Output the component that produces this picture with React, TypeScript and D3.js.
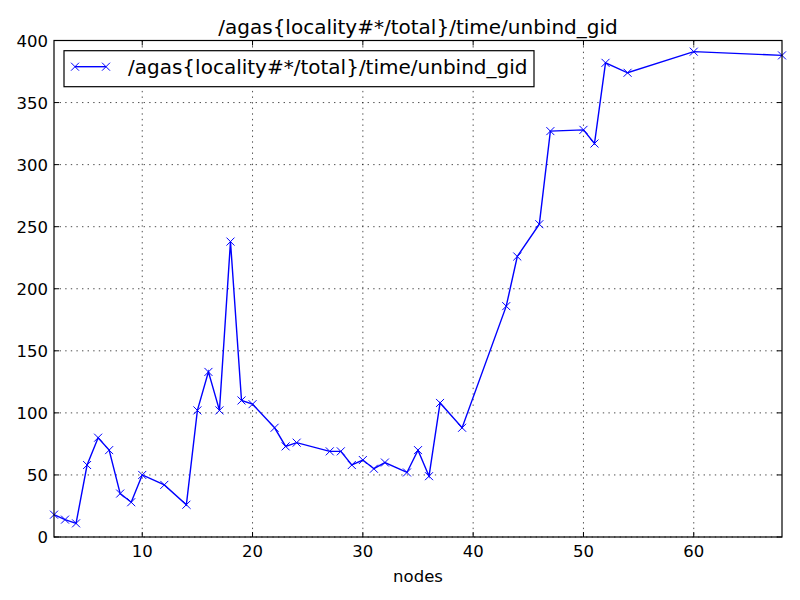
import React from "react";
import * as d3 from "d3";

const seriesName = "/agas{locality#*/total}/time/unbind_gid";
const nodes = [2, 3, 4, 5, 6, 7, 8, 9, 10, 12, 14, 15, 16, 17, 18, 19, 20, 22, 23, 24, 27, 28, 29, 30, 31, 32, 34, 35, 36, 37, 39, 43, 44, 46, 47, 50, 51, 52, 54, 60, 68];
const times = [18, 14, 11, 58, 80, 70, 35, 28, 50, 42, 26, 102, 133, 102, 238, 110, 107, 88, 73, 76, 69, 69, 58, 62, 55, 60, 52, 70, 49, 108, 88, 186, 226, 252, 327, 328, 317, 382, 374, 391, 388];
const xTicks = [10, 20, 30, 40, 50, 60];
const yTicks = [0, 50, 100, 150, 200, 250, 300, 350, 400];

const W = 800, H = 600;
const L = 54, R = 782, T = 40.5, B = 537;
const FONT = "'DejaVu Sans', sans-serif";

export default function App() {
  const x = d3.scaleLinear().domain([2, 68]).range([L, R]);
  const y = d3.scaleLinear().domain([0, 400]).range([B, T]);
  const line = d3.line<number>().x((_, i) => x(nodes[i])).y((d) => y(d));
  const m = 4;
  const marker = (cx: number, cy: number, k: string) => (
    <path key={k} d={`M${cx - m},${cy - m}L${cx + m},${cy + m}M${cx - m},${cy + m}L${cx + m},${cy - m}`} stroke="#0000ff" strokeWidth={1} fill="none" />
  );
  const tl = 5;
  return (
    <svg width={W} height={H} style={{ position: "absolute", left: 0, top: 0, background: "#fff" }} fontFamily={FONT}>
      <rect x={0} y={0} width={W} height={H} fill="#fff" />
      {/* grid */}
      {xTicks.map((t) => (
        <line key={"gx" + t} x1={x(t)} x2={x(t)} y1={T} y2={B} stroke="#000" strokeWidth={0.7} strokeDasharray="1.4,4.2" />
      ))}
      {yTicks.map((t) => (
        <line key={"gy" + t} x1={L} x2={R} y1={y(t)} y2={y(t)} stroke="#000" strokeWidth={0.7} strokeDasharray="1.4,4.2" />
      ))}
      {/* data */}
      <path d={line(times) || ""} fill="none" stroke="#0000ff" strokeWidth={1.4} />
      {times.map((v, i) => marker(x(nodes[i]), y(v), "m" + i))}
      {/* ticks */}
      {xTicks.map((t) => (
        <g key={"tx" + t}>
          <line x1={x(t)} x2={x(t)} y1={B} y2={B - tl} stroke="#000" strokeWidth={1} />
          <line x1={x(t)} x2={x(t)} y1={T} y2={T + tl} stroke="#000" strokeWidth={1} />
          <text x={x(t)} y={557} textAnchor="middle" fontSize={16.5} fill="#000">{t}</text>
        </g>
      ))}
      {yTicks.map((t) => (
        <g key={"ty" + t}>
          <line x1={L} x2={L + tl} y1={y(t)} y2={y(t)} stroke="#000" strokeWidth={1} />
          <line x1={R} x2={R - tl} y1={y(t)} y2={y(t)} stroke="#000" strokeWidth={1} />
          <text x={L - 6} y={y(t) + 6} textAnchor="end" fontSize={16.5} fill="#000">{t}</text>
        </g>
      ))}
      {/* frame */}
      <rect x={L} y={T} width={R - L} height={B - T} fill="none" stroke="#000" strokeWidth={1.2} />
      {/* title & label */}
      <text x={(L + R) / 2} y={34} textAnchor="middle" fontSize={20} fill="#000">{seriesName}</text>
      <text x={(L + R) / 2} y={582} textAnchor="middle" fontSize={16.5} fill="#000">nodes</text>
      {/* legend */}
      <rect x={64} y={50.7} width={470} height={36} fill="#fff" stroke="#000" strokeWidth={1.2} />
      <line x1={75} x2={106} y1={66.7} y2={66.7} stroke="#0000ff" strokeWidth={1.4} />
      {marker(75, 66.7, "l1")}
      {marker(106, 66.7, "l2")}
      <text x={128} y={74} fontSize={20} fill="#000">{seriesName}</text>
    </svg>
  );
}
